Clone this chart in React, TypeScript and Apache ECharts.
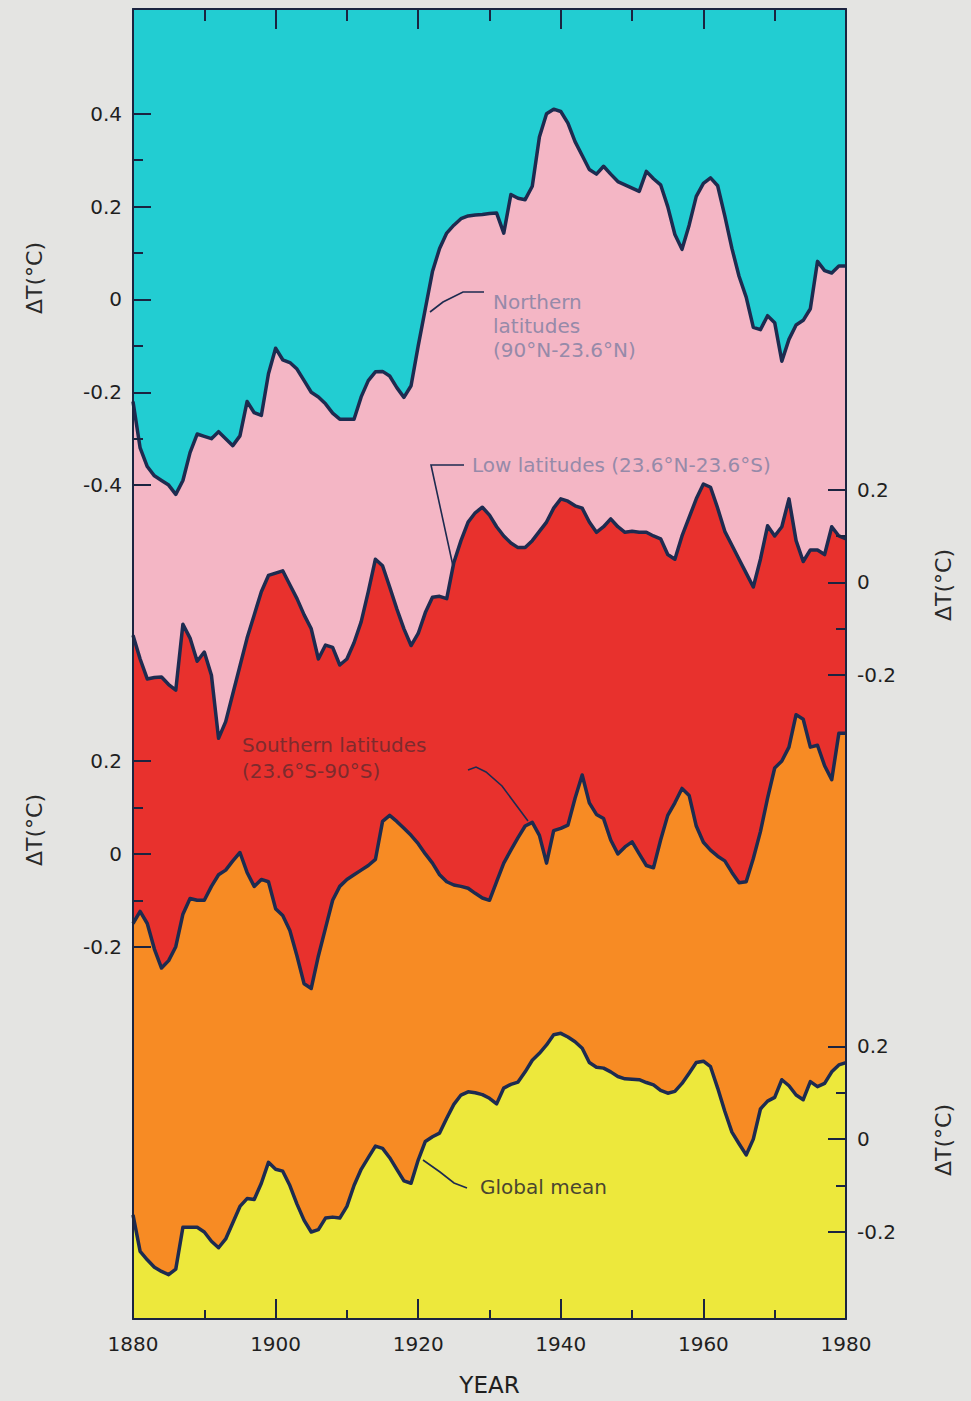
import React, { useEffect, useRef } from "react";
import * as echarts from "echarts";

// ---------- data ----------
const years = [
  1880, 1881, 1882, 1883, 1884, 1885, 1886, 1887, 1888, 1889,
  1890, 1891, 1892, 1893, 1894, 1895, 1896, 1897, 1898, 1899,
  1900, 1901, 1902, 1903, 1904, 1905, 1906, 1907, 1908, 1909,
  1910, 1911, 1912, 1913, 1914, 1915, 1916, 1917, 1918, 1919,
  1920, 1921, 1922, 1923, 1924, 1925, 1926, 1927, 1928, 1929,
  1930, 1931, 1932, 1933, 1934, 1935, 1936, 1937, 1938, 1939,
  1940, 1941, 1942, 1943, 1944, 1945, 1946, 1947, 1948, 1949,
  1950, 1951, 1952, 1953, 1954, 1955, 1956, 1957, 1958, 1959,
  1960, 1961, 1962, 1963, 1964, 1965, 1966, 1967, 1968, 1969,
  1970, 1971, 1972, 1973, 1974, 1975, 1976, 1977, 1978, 1979,
  1980,
];

// Northern latitudes (90°N-23.6°N)
const northern = [
  -0.22, -0.32, -0.36, -0.38, -0.39, -0.4, -0.42, -0.39, -0.33, -0.29,
  -0.295, -0.3, -0.285, -0.3, -0.315, -0.294, -0.22, -0.244, -0.25, -0.16,
  -0.105, -0.13, -0.136, -0.15, -0.175, -0.2, -0.21, -0.225, -0.245, -0.258,
  -0.258, -0.258, -0.21, -0.175, -0.156, -0.155, -0.165, -0.19, -0.211, -0.186,
  -0.1, -0.02, 0.06, 0.11, 0.143, 0.16, 0.174, 0.18, 0.182, 0.183,
  0.185, 0.186, 0.143, 0.226, 0.218, 0.215, 0.244, 0.35, 0.4, 0.41,
  0.405, 0.38, 0.34, 0.31, 0.28, 0.27, 0.287, 0.27, 0.254, 0.247,
  0.24, 0.233, 0.276, 0.26, 0.247, 0.2, 0.14, 0.108, 0.16, 0.222,
  0.25, 0.262, 0.245, 0.18, 0.11, 0.05, 0.005, -0.06, -0.065, -0.035,
  -0.05, -0.133, -0.086, -0.055, -0.045, -0.02, 0.082, 0.062, 0.057, 0.072,
  0.072,
];

// Low latitudes (23.6°N-23.6°S)
const lowLat = [
  -0.114, -0.165, -0.208, -0.205, -0.204, -0.22, -0.232, -0.09, -0.12, -0.17,
  -0.15, -0.2, -0.336, -0.3, -0.24, -0.18, -0.12, -0.07, -0.02, 0.015,
  0.02, 0.025, -0.005, -0.035, -0.07, -0.1, -0.165, -0.135, -0.14, -0.178,
  -0.165, -0.13, -0.085, -0.02, 0.05, 0.036, -0.01, -0.057, -0.1, -0.136,
  -0.11, -0.065, -0.032, -0.03, -0.035, 0.043, 0.09, 0.13, 0.15, 0.162,
  0.145, 0.12, 0.1, 0.085, 0.075, 0.075, 0.09, 0.11, 0.13, 0.16,
  0.18, 0.175, 0.165, 0.16, 0.13, 0.108, 0.12, 0.137, 0.12, 0.108,
  0.11, 0.108, 0.108, 0.1, 0.094, 0.06, 0.05, 0.1, 0.14, 0.18,
  0.212, 0.205, 0.16, 0.11, 0.08, 0.05, 0.02, -0.01, 0.05, 0.122,
  0.1, 0.12, 0.18, 0.09, 0.045, 0.07, 0.07, 0.06, 0.12, 0.1,
  0.094,
];

// Southern latitudes (23.6°S-90°S)
const southern = [
  -0.15, -0.124, -0.15, -0.205, -0.246, -0.23, -0.2, -0.13, -0.096, -0.1,
  -0.1, -0.07, -0.045, -0.035, -0.015, 0.003, -0.04, -0.07, -0.055, -0.06,
  -0.118, -0.133, -0.165, -0.22, -0.28, -0.29, -0.22, -0.16, -0.1, -0.07,
  -0.055, -0.045, -0.035, -0.025, -0.012, 0.07, 0.083, 0.07, 0.055, 0.04,
  0.022, 0.0, -0.02, -0.045, -0.06, -0.067, -0.07, -0.074, -0.085, -0.095,
  -0.1, -0.06, -0.02, 0.008, 0.035, 0.06, 0.068, 0.04, -0.02, 0.05,
  0.055, 0.062, 0.12, 0.17, 0.11, 0.085, 0.076, 0.03, 0.0, 0.015,
  0.026, 0.0, -0.025, -0.03, 0.03, 0.083, 0.11, 0.141, 0.126, 0.06,
  0.025, 0.008, -0.005, -0.015, -0.04, -0.062, -0.06, -0.01, 0.048, 0.12,
  0.185, 0.2, 0.23, 0.3, 0.29, 0.23, 0.234, 0.19, 0.16, 0.26,
  0.26,
];

// Global mean
const globalMean = [
  -0.163, -0.242, -0.26, -0.276, -0.285, -0.292, -0.28, -0.19, -0.19, -0.19,
  -0.2, -0.22, -0.234, -0.215, -0.18, -0.145, -0.128, -0.13, -0.095, -0.05,
  -0.065, -0.069, -0.1, -0.14, -0.175, -0.2, -0.195, -0.17, -0.168, -0.17,
  -0.145, -0.1, -0.065, -0.04, -0.015, -0.02, -0.04, -0.065, -0.09, -0.095,
  -0.045, -0.005, 0.005, 0.013, 0.045, 0.075, 0.095, 0.102, 0.1, 0.096,
  0.088, 0.076, 0.11, 0.118, 0.123, 0.145, 0.17, 0.185, 0.203, 0.225,
  0.228, 0.22, 0.21, 0.196, 0.165, 0.155, 0.153, 0.145, 0.135, 0.13,
  0.129, 0.128, 0.122, 0.117, 0.105, 0.099, 0.103, 0.12, 0.142, 0.165,
  0.168, 0.156, 0.11, 0.06, 0.015, -0.01, -0.034, 0.0, 0.065, 0.082,
  0.09, 0.128, 0.115, 0.095, 0.085, 0.124, 0.113, 0.12, 0.145, 0.16,
  0.165,
];

const yearLabelTicks = [1880, 1900, 1920, 1940, 1960, 1980];
const yearMinorTicks = [1890, 1910, 1930, 1950, 1970];
const northernTickLabels = [-0.4, -0.2, 0, 0.2, 0.4];
const northernMinorTicks = [-0.3, -0.1, 0.1, 0.3];
const bandTickLabels = [-0.2, 0, 0.2];
const bandMinorTicks = [-0.1, 0.1];

// ---------- styling / layout ----------
const FONT = '"DejaVu Sans", "Liberation Sans", sans-serif';
const BG = "#e4e4e2";
const AXIS = "#1b2440";
const LINE = "#1d2b50";
const CYAN = "#22cdd2";
const PINK = "#f4b6c5";
const RED = "#e8312d";
const ORANGE = "#f78b24";
const YELLOW = "#ede83c";
const LABEL = "#1f1f1f";

const GRID_LEFT = 133;
const GRID_RIGHT = 125;
const GRID_TOP = 9;
const GRID_BOTTOM = 79.5;
const PLOT_H = 1401 - GRID_TOP - GRID_BOTTOM;
const PX_PER_DEG = 465; // 0.2 °C per 93 px in the reference

// pixel row (page y) of each panel's zero line
const zeroRow = { north: 300, low: 583.5, south: 855.5, glob: 1141.3 };
const rangeFor = (zeroY: number) => {
  const max = (zeroY - GRID_TOP) / PX_PER_DEG;
  return { min: max - PLOT_H / PX_PER_DEG, max };
};

const fmt = (v: number) =>
  Math.abs(v) < 1e-9 ? "0" : (v < 0 ? "-" : "") + Math.abs(v).toFixed(1);

const makeYAxes = (
  zeroY: number,
  position: "left" | "right",
  labels: number[],
  minor: number[],
  showLine: boolean
) => {
  const { min, max } = rangeFor(zeroY);
  return [
    {
      type: "value",
      min,
      max,
      position,
      z: 10,
      axisLine: { show: showLine, onZero: false, lineStyle: { color: AXIS, width: 2 } },
      axisTick: {
        show: true,
        inside: true,
        length: 18,
        customValues: labels,
        lineStyle: { color: AXIS, width: 2 },
      },
      axisLabel: {
        show: true,
        customValues: labels,
        margin: 11,
        fontSize: 20,
        color: LABEL,
        fontFamily: FONT,
        formatter: fmt,
      },
      splitLine: { show: false },
    },
    {
      type: "value",
      min,
      max,
      position,
      z: 10,
      axisLine: { show: false, onZero: false },
      axisTick: {
        show: true,
        inside: true,
        length: 10,
        customValues: minor,
        lineStyle: { color: AXIS, width: 2 },
      },
      axisLabel: { show: false },
      splitLine: { show: false },
    },
  ];
};

const pairs = (vals: number[]) => years.map((y, i) => [y, vals[i]]);

const bandSeries = (name: string, vals: number[], yIdx: number, fill: string, z: number) => ({
  name,
  type: "line",
  xAxisIndex: 0,
  yAxisIndex: yIdx,
  data: pairs(vals),
  symbol: "none",
  z,
  lineStyle: { color: LINE, width: 3.5, join: "round" },
  areaStyle: { color: fill, opacity: 1, origin: "start" },
});

function App() {
  const ref = useRef<HTMLDivElement>(null);

  useEffect(() => {
    if (!ref.current) return;
    const chart = echarts.init(ref.current, null, { renderer: "svg" });

    const xBase = {
      type: "value",
      min: 1880,
      max: 1980,
      z: 10,
      splitLine: { show: false },
    };

    const annText = (text: string, x: number, y: number, color: string, extra: any = {}) => ({
      type: "text",
      x,
      y,
      z: 20,
      style: {
        text,
        fill: color,
        font: `20px ${FONT}`,
        align: "left",
        verticalAlign: "middle",
        ...extra,
      },
    });

    const leader = (points: number[][]) => ({
      type: "polyline",
      z: 20,
      shape: { points },
      style: { stroke: LINE, lineWidth: 1.6, fill: "none" },
    });

    const deltaLabel = (x: number, y: number) => ({
      type: "text",
      x,
      y,
      rotation: Math.PI / 2,
      z: 20,
      style: {
        text: "ΔT(°C)",
        fill: "#2a2a2a",
        font: `22px ${FONT}`,
        align: "center",
        verticalAlign: "middle",
      },
    });

    const option: any = {
      animation: false,
      backgroundColor: BG,
      grid: {
        left: GRID_LEFT,
        right: GRID_RIGHT,
        top: GRID_TOP,
        bottom: GRID_BOTTOM,
        show: true,
        backgroundColor: CYAN,
        borderWidth: 0,
      },
      xAxis: [
        {
          ...xBase,
          position: "bottom",
          name: "YEAR",
          nameLocation: "middle",
          nameGap: 54,
          nameTextStyle: { fontSize: 23, color: LABEL, fontFamily: FONT },
          axisLine: { show: true, onZero: false, lineStyle: { color: AXIS, width: 2 } },
          axisTick: {
            show: true,
            inside: true,
            length: 20,
            customValues: yearLabelTicks,
            lineStyle: { color: AXIS, width: 2 },
          },
          axisLabel: {
            show: true,
            customValues: yearLabelTicks,
            margin: 15,
            fontSize: 20,
            color: LABEL,
            fontFamily: FONT,
            formatter: (v: number) => String(v),
          },
        },
        {
          ...xBase,
          position: "bottom",
          axisLine: { show: false, onZero: false },
          axisTick: {
            show: true,
            inside: true,
            length: 9,
            customValues: yearMinorTicks,
            lineStyle: { color: AXIS, width: 2 },
          },
          axisLabel: { show: false },
        },
        {
          ...xBase,
          position: "top",
          axisLine: { show: true, onZero: false, lineStyle: { color: AXIS, width: 2 } },
          axisTick: {
            show: true,
            inside: true,
            length: 20,
            customValues: yearLabelTicks,
            lineStyle: { color: AXIS, width: 2 },
          },
          axisLabel: { show: false },
        },
        {
          ...xBase,
          position: "top",
          axisLine: { show: false, onZero: false },
          axisTick: {
            show: true,
            inside: true,
            length: 12,
            customValues: yearMinorTicks,
            lineStyle: { color: AXIS, width: 2 },
          },
          axisLabel: { show: false },
        },
      ],
      yAxis: [
        ...makeYAxes(zeroRow.north, "left", northernTickLabels, northernMinorTicks, true),
        ...makeYAxes(zeroRow.low, "right", bandTickLabels, bandMinorTicks, true),
        ...makeYAxes(zeroRow.south, "left", bandTickLabels, bandMinorTicks, false),
        ...makeYAxes(zeroRow.glob, "right", bandTickLabels, bandMinorTicks, false),
      ],
      series: [
        bandSeries("Northern latitudes", northern, 0, PINK, 2),
        bandSeries("Low latitudes", lowLat, 2, RED, 3),
        bandSeries("Southern latitudes", southern, 4, ORANGE, 4),
        bandSeries("Global mean", globalMean, 6, YELLOW, 5),
      ],
      graphic: [
        deltaLabel(34, 278),
        deltaLabel(34, 830),
        deltaLabel(943, 585),
        deltaLabel(943, 1140),
        // Northern latitudes annotation
        leader([
          [430, 312],
          [443, 302],
          [463, 292],
          [484, 292],
        ]),
        annText("Northern\nlatitudes\n(90°N-23.6°N)", 493, 326, "#968aa9", { lineHeight: 24 }),
        // Low latitudes annotation
        leader([
          [464, 465],
          [431, 465],
          [453, 566],
        ]),
        annText("Low latitudes (23.6°N-23.6°S)", 472, 465, "#968aa9"),
        // Southern latitudes annotation
        annText("Southern latitudes\n(23.6°S-90°S)", 242, 758, "#7e2b2d", { lineHeight: 26 }),
        leader([
          [468, 770],
          [476, 767],
          [486, 772],
          [502, 786],
          [528, 821],
        ]),
        // Global mean annotation
        leader([
          [423, 1160],
          [440, 1172],
          [454, 1183],
          [467, 1188],
        ]),
        annText("Global mean", 480, 1187, "#4a4630"),
      ],
    };

    chart.setOption(option);
    return () => chart.dispose();
  }, []);

  return (
    <div
      ref={ref}
      style={{ position: "absolute", left: 0, top: 0, width: 971, height: 1401 }}
    />
  );
}

export default App;
